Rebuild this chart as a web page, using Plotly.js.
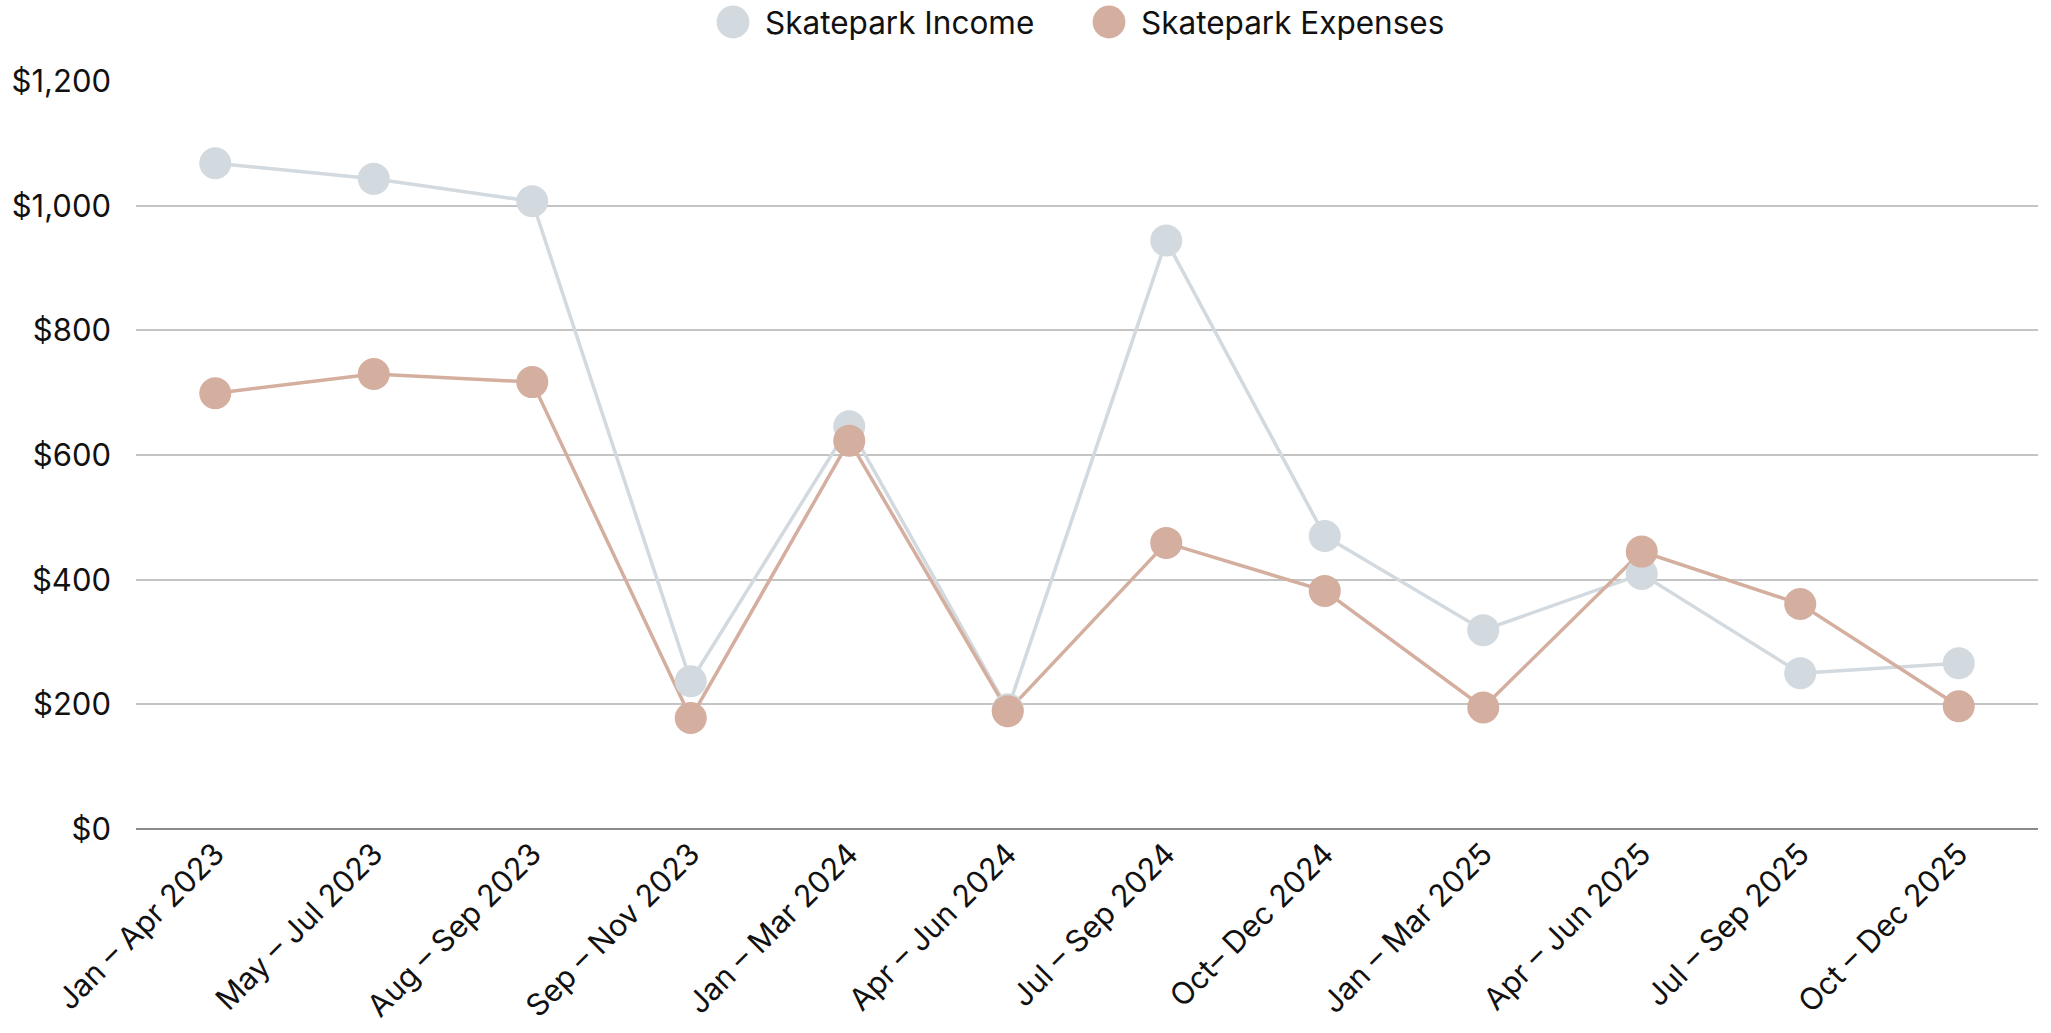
<!DOCTYPE html>
<html>
<head>
<meta charset="utf-8">
<script src="https://cdn.plot.ly/plotly-3.0.1.min.js"></script>
<style>html,body{margin:0;padding:0;background:#fff;}#chart{width:2051px;height:1033px;}</style>
</head>
<body>
<div id="chart"></div>
<script>
const categories = ["Jan – Apr 2023","May – Jul 2023","Aug – Sep 2023","Sep – Nov 2023","Jan – Mar 2024","Apr – Jun 2024","Jul – Sep 2024","Oct– Dec 2024","Jan – Mar 2025","Apr – Jun 2025","Jul – Sep 2025","Oct – Dec 2025"];
const incomeValues = [1068, 1043, 1007, 237, 646, 192, 944, 470, 319, 409, 250, 266];
const expenseValues = [699, 730, 717, 178, 623, 189, 459, 382, 195, 445, 361, 197];
const yTickValues = [0, 200, 400, 600, 800, 1000, 1200];
const yTickLabels = ["$0","$200","$400","$600","$800","$1,000","$1,200"];

const FONT = "Inter, 'Noto Sans', sans-serif";
const incomeColor = "#d2d9df";
const expenseColor = "#d4ae9e";

const traces = [
  {x: categories, y: incomeValues, name: "Skatepark Income", type: "scatter", mode: "lines",
   line: {color: incomeColor, width: 3.5}, showlegend: false, legendgroup: "inc", hoverinfo: "skip"},
  {x: categories, y: expenseValues, name: "Skatepark Expenses", type: "scatter", mode: "lines",
   line: {color: expenseColor, width: 3.5}, showlegend: false, legendgroup: "exp", hoverinfo: "skip"},
  {x: categories, y: incomeValues, name: "Skatepark Income", type: "scatter", mode: "markers",
   marker: {color: incomeColor, size: 32}, legendgroup: "inc"},
  {x: categories, y: expenseValues, name: "Skatepark Expenses", type: "scatter", mode: "markers",
   marker: {color: expenseColor, size: 32}, legendgroup: "exp"}
];

const layout = {
  width: 2051, height: 1033,
  margin: {l: 136, r: 13, t: 81, b: 204},
  paper_bgcolor: "#fff", plot_bgcolor: "#fff",
  font: {family: FONT, size: 31, color: "#111"},
  showlegend: true,
  legend: {orientation: "h", x: 715/2051, xanchor: "left", xref: "container", y: 1 - 22/1033, yanchor: "middle", yref: "container",
           font: {family: FONT, size: 31.5, color: "#111"}, itemsizing: "trace", itemwidth: 40,
           entrywidth: 321, entrywidthmode: "pixels", traceorder: "normal"},
  xaxis: {type: "category", tickangle: -45, showgrid: false, zeroline: false, showline: false,
          ticks: "", tickfont: {family: FONT, size: 30.5, color: "#111"}, range: [-0.5, 11.5], fixedrange: true},
  yaxis: {range: [0, 1200], tickvals: yTickValues, ticktext: yTickLabels, showgrid: true,
          gridcolor: "#c4c4c4", gridwidth: 2, zeroline: true, zerolinecolor: "#8a8a8a", zerolinewidth: 2.5,
          ticks: "", ticklabelstandoff: 24, tickfont: {family: FONT, size: 31, color: "#111"}, fixedrange: true}
};

Plotly.newPlot("chart", traces, layout, {displayModeBar: false, staticPlot: true}).then(function (gd) {
  // enlarge legend symbols to match the large round swatches of the reference
  gd.querySelectorAll(".legend .traces .legendpoints path.scatterpts").forEach(function (p) {
    p.setAttribute("transform", "translate(18,0) scale(2.05)");
  });
});
</script>
</body>
</html>
